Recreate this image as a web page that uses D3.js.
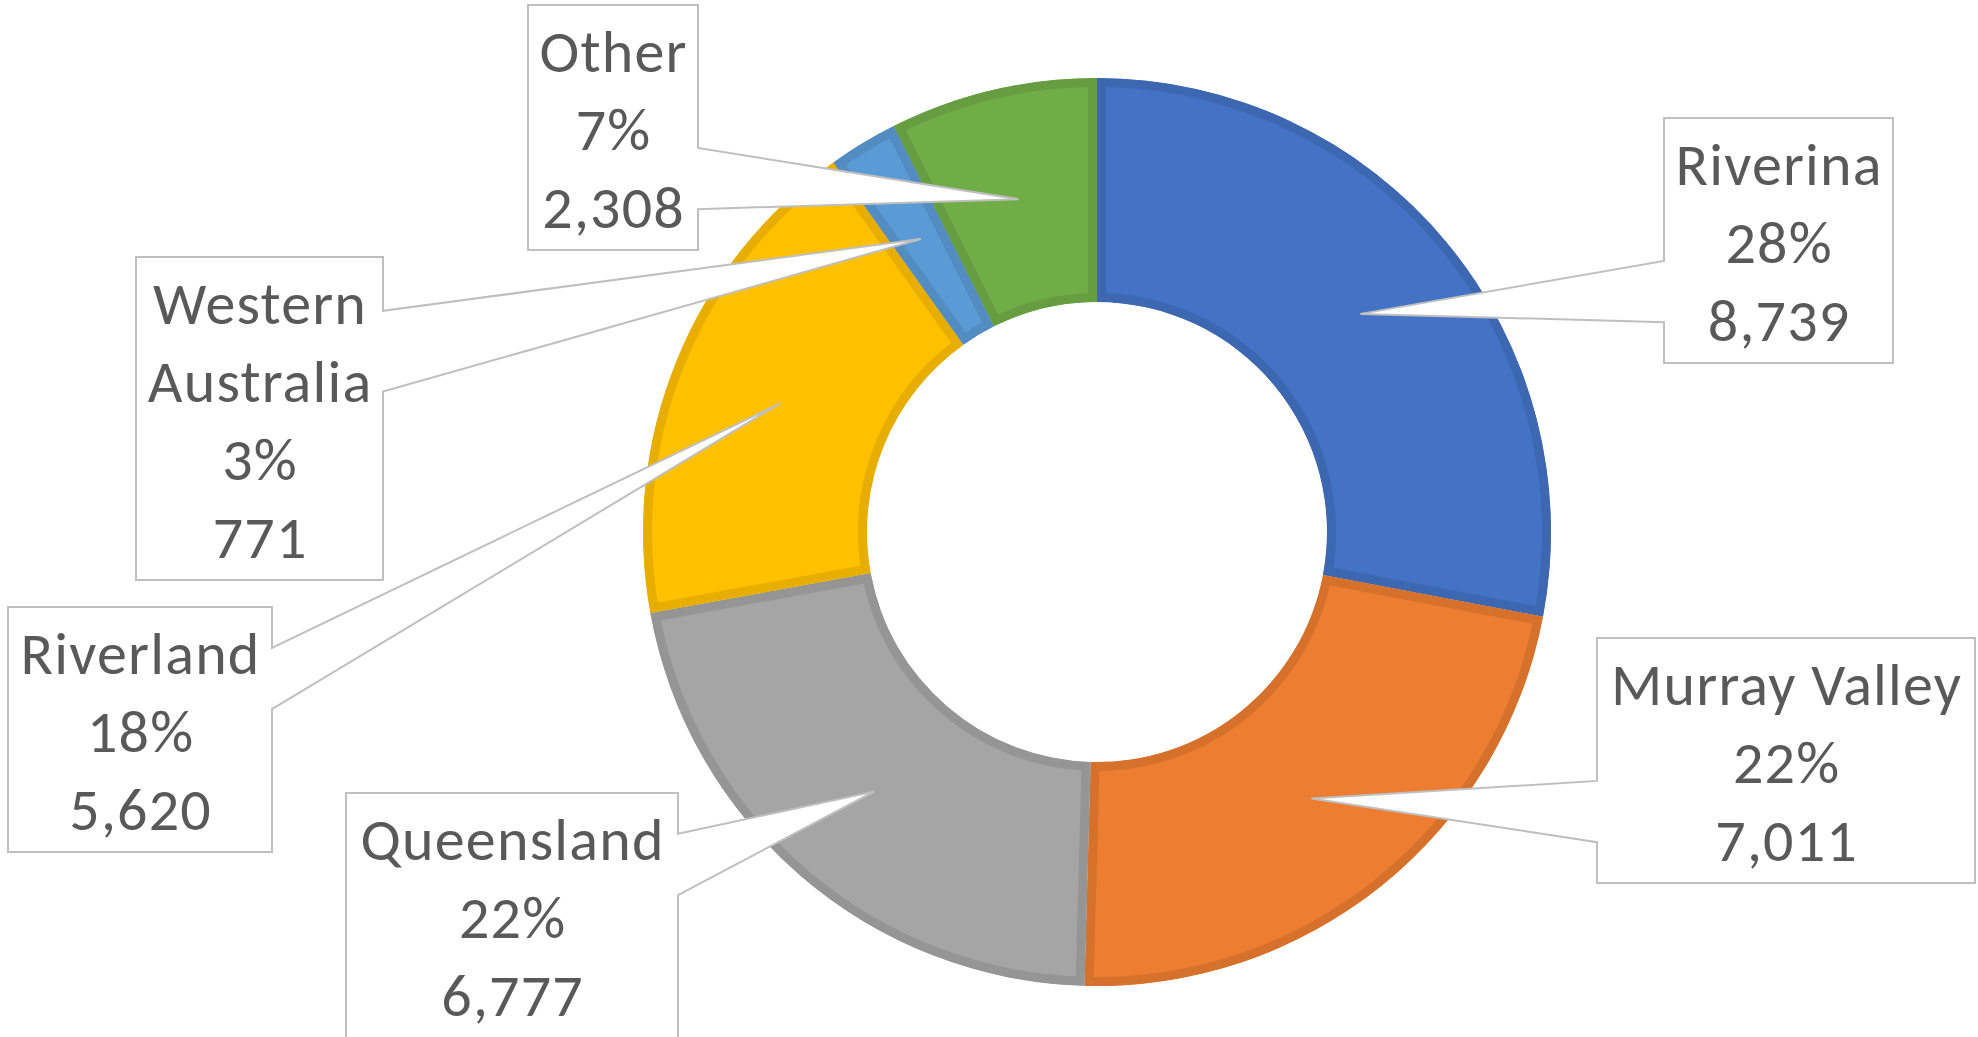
<!DOCTYPE html>
<html>
<head>
<meta charset="utf-8">
<script src="https://cdn.jsdelivr.net/npm/d3@7"></script>
<style>
  body { margin: 0; background: #fff; }
  text { font-family: Carlito, Calibri, Lato, sans-serif; }
</style>
</head>
<body>
<svg id="chart"></svg>
<script>

// data
var regions = ["Riverina", "Murray Valley", "Queensland", "Riverland", "Western Australia", "Other"];
var tonnes = [8739, 7011, 6777, 5620, 771, 2308];
var percents = [28, 22, 22, 18, 3, 7];
var colours = ["#4472C4", "#ED7D31", "#A5A5A5", "#FFC000", "#5B9BD5", "#70AD47"];

// where the callout boxes sit (left, top, width)
var boxLeft = [1664, 1597, 346, 8, 136, 528];
var boxTop = [118, 638, 793, 607, 257, 5];
var boxWidth = [229, 378, 332, 264, 247, 170];

var width = 1978, height = 1037;
var cx = 1097, cy = 532;
var outerR = 454, innerR = 230;
var fontSize = 60, lineH = 78;
var textCol = "#595959";

var svg = d3.select("#chart").attr("width", width).attr("height", height);

var rows = regions.map(function(r, i){
  return {name: r, value: tonnes[i], pct: percents[i], colour: colours[i], i: i};
});

var pie = d3.pie().sort(null).value(function(d){ return d.value; });
var arc = d3.arc().innerRadius(innerR).outerRadius(outerR);
var arcs = pie(rows);

var g = svg.append("g").attr("transform", "translate(" + cx + "," + cy + ")");

// each slice gets an inner border: stroke twice as wide, clipped to the slice
g.selectAll("clipPath").data(arcs).enter()
  .append("clipPath").attr("id", function(d){ return "clip" + d.data.i; })
  .append("path").attr("d", arc);

g.selectAll("path.slice").data(arcs).enter()
  .append("path")
  .attr("class", "slice")
  .attr("d", arc)
  .attr("clip-path", function(d){ return "url(#clip" + d.data.i + ")"; })
  .attr("fill", function(d){ return d.data.colour; })
  .attr("stroke", function(d){ return d3.color(d.data.colour).darker(0.28); })
  .attr("stroke-width", 18);

// callout outline (rect with wedge), like an office wedgeRectCallout
function callout(b, tip){
  var x0 = b.x, y0 = b.y, x1 = b.x + b.w, y1 = b.y + b.h;
  var hc = x0 + b.w / 2, vc = y0 + b.h / 2;
  var dx = tip[0] - hc, dy = tip[1] - vc;
  var dz = Math.abs(dy) - Math.abs(dx * b.h / b.w);
  var p = d3.path();
  if (dz <= 0) {
    var ya = y0 + b.h * (dy > 0 ? 7 : 2) / 12;
    var yb = y0 + b.h * (dy > 0 ? 10 : 5) / 12;
    if (dx < 0) {
      p.moveTo(x0, y0); p.lineTo(x1, y0); p.lineTo(x1, y1); p.lineTo(x0, y1);
      p.lineTo(x0, yb); p.lineTo(tip[0], tip[1]); p.lineTo(x0, ya);
    } else {
      p.moveTo(x0, y0); p.lineTo(x1, y0); p.lineTo(x1, ya); p.lineTo(tip[0], tip[1]);
      p.lineTo(x1, yb); p.lineTo(x1, y1); p.lineTo(x0, y1);
    }
  } else {
    var xa = x0 + b.w * (dx > 0 ? 7 : 2) / 12;
    var xb = x0 + b.w * (dx > 0 ? 10 : 5) / 12;
    if (dy < 0) {
      p.moveTo(x0, y0); p.lineTo(xa, y0); p.lineTo(tip[0], tip[1]); p.lineTo(xb, y0);
      p.lineTo(x1, y0); p.lineTo(x1, y1); p.lineTo(x0, y1);
    } else {
      p.moveTo(x0, y0); p.lineTo(x1, y0); p.lineTo(x1, y1); p.lineTo(xb, y1);
      p.lineTo(tip[0], tip[1]); p.lineTo(xa, y1); p.lineTo(x0, y1);
    }
  }
  p.closePath();
  return p.toString();
}

// measure to decide where a label name wraps
var probe = svg.append("text").attr("font-size", fontSize).attr("letter-spacing", 1.2);
function textW(s){ probe.text(s); return probe.node().getComputedTextLength(); }

var labels = svg.append("g");

arcs.forEach(function(d){
  var i = d.data.i;
  var c = arc.centroid(d);
  var tip = [cx + c[0], cy + c[1]];

  var lines = [d.data.name];
  if (textW(d.data.name) > boxWidth[i] - 10) lines = d.data.name.split(" ");
  lines.push(d.data.pct + "%");
  lines.push(d3.format(",")(d.data.value));

  var b = {x: boxLeft[i], y: boxTop[i], w: boxWidth[i], h: lines.length * lineH + 11};

  labels.append("path")
    .attr("d", callout(b, tip))
    .attr("fill", "#fff")
    .attr("stroke", "#BFBFBF")
    .attr("stroke-width", 2)
    .attr("stroke-linejoin", "miter");

  labels.append("text")
    .attr("x", b.x + b.w / 2)
    .attr("y", b.y + 67)
    .attr("text-anchor", "middle")
    .attr("font-size", fontSize)
    .attr("letter-spacing", 1.2)
    .attr("fill", textCol)
    .selectAll("tspan").data(lines).enter()
    .append("tspan")
    .attr("x", b.x + b.w / 2 + 0.6)
    .attr("dy", function(t, k){ return k === 0 ? 0 : lineH; })
    .text(function(t){ return t; });
});

probe.remove();

</script>
</body>
</html>
